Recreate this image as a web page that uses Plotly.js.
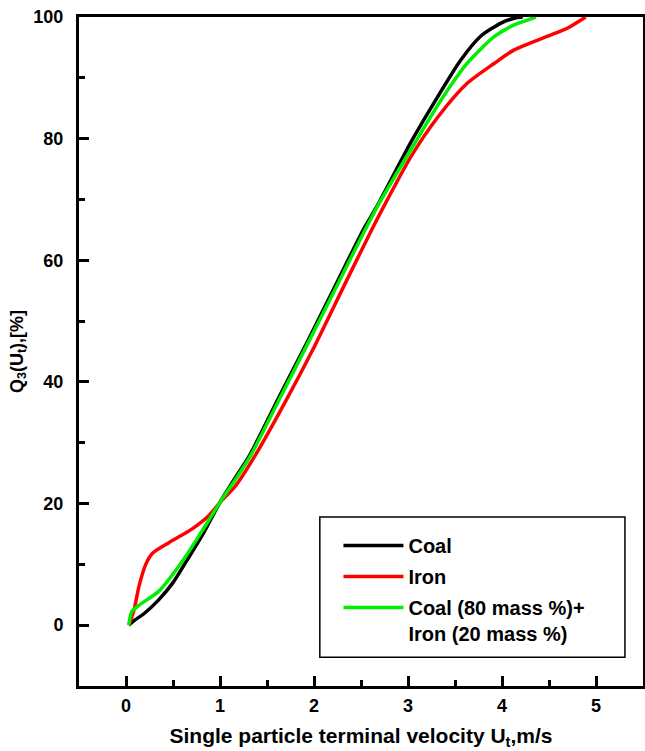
<!DOCTYPE html>
<html>
<head>
<meta charset="utf-8">
<script src="https://cdn.plot.ly/plotly-3.0.1.min.js"></script>
<style>html,body{margin:0;padding:0;background:#fff;}#chart{width:645px;height:751px;}</style>
</head>
<body>
<div id="chart"></div>
<script>
// Series names
const seriesNames = ["Coal", "Iron", "Coal (80 mass %)+<br>Iron (20 mass %)"];

// Coal
const coalX = [0.03, 0.10, 0.20, 0.35, 0.50, 0.63, 0.83, 1.00, 1.19, 1.31, 1.64, 1.92, 2.22, 2.52, 2.66, 3.03, 3.32, 3.56, 3.77, 3.99, 4.13, 4.22];
const coalY = [0, 0.9, 2.0, 4.2, 7.0, 10.2, 15.3, 20.2, 24.9, 27.8, 37.9, 46.3, 55.6, 64.9, 68.6, 79.4, 87.0, 92.9, 96.8, 99.0, 99.8, 100];

// Iron
const ironX = [0.03, 0.085, 0.14, 0.21, 0.28, 0.46, 0.70, 0.88, 1.00, 1.16, 1.37, 1.69, 2.01, 2.31, 2.61, 2.72, 3.03, 3.32, 3.63, 3.92, 4.13, 4.48, 4.70, 4.89];
const ironY = [0, 2.5, 6.5, 10.0, 11.8, 13.6, 15.8, 18.0, 20.2, 22.8, 27.8, 36.6, 46.0, 55.5, 64.9, 68.2, 77.0, 83.6, 89.1, 92.4, 94.6, 96.8, 98.2, 100];

// Coal (80 mass %) + Iron (20 mass %)
const mixX = [0.03, 0.06, 0.14, 0.35, 0.60, 0.81, 1.00, 1.20, 1.33, 1.66, 1.94, 2.24, 2.54, 2.68, 3.07, 3.35, 3.63, 3.92, 4.13, 4.27, 4.36];
const mixY = [0, 2.2, 3.3, 5.6, 10.5, 15.5, 20.2, 24.8, 28.0, 38.0, 46.5, 55.7, 64.9, 69.0, 79.2, 86.3, 92.4, 96.8, 98.7, 99.5, 100];

// Axis ticks
const xTicks = [0, 1, 2, 3, 4, 5];
const yTicks = [0, 20, 40, 60, 80, 100];

const colors = ["#000000", "#ff0000", "#00ee00"];
const font = "Liberation Sans, Arial, Helvetica, sans-serif";

const traces = [
  {x: coalX, y: coalY, name: seriesNames[0]},
  {x: ironX, y: ironY, name: seriesNames[1]},
  {x: mixX, y: mixY, name: seriesNames[2]}
].map((t, i) => Object.assign(t, {
  type: "scatter", mode: "lines",
  line: {color: colors[i], width: 3.5, shape: "spline", smoothing: 0.7},
  legendgroup: "g" + i
}));

const axisCommon = {
  showgrid: false, zeroline: false, showline: true, linecolor: "#000", linewidth: 3,
  mirror: true, ticks: "inside", ticklen: 10, tickwidth: 3, tickcolor: "#000",
  tickfont: {family: font, size: 18, color: "#000", weight: "bold"},
  minor: {ticks: "inside", ticklen: 6, tickwidth: 3, tickcolor: "#000"}
};

const layout = {
  width: 645, height: 751,
  margin: {l: 79, r: 2, t: 17, b: 65},
  paper_bgcolor: "#fff", plot_bgcolor: "#fff",
  showlegend: true,
  xaxis: Object.assign({}, axisCommon, {
    range: [-0.5, 5.5], tickvals: xTicks, ticktext: xTicks.map(String),
    minor: Object.assign({}, axisCommon.minor, {dtick: 0.5, tick0: 0}),
    ticklabelstandoff: 1,
    title: {text: "Single particle terminal velocity U<sub>t</sub>,m/s", font: {family: font, size: 21, color: "#000", weight: "bold"}, standoff: 14}
  }),
  yaxis: Object.assign({}, axisCommon, {
    range: [-10, 100], tickvals: yTicks, ticktext: yTicks.map(String),
    minor: Object.assign({}, axisCommon.minor, {dtick: 10, tick0: 0}),
    ticklabelstandoff: 9,
    title: {text: "Q<sub>3</sub>(U<sub>t</sub>),[%]", font: {family: font, size: 18, color: "#000", weight: "bold"}, standoff: 6}
  }),
  legend: {
    x: 0.46, y: 0.239, xanchor: "left", yanchor: "top",
    bgcolor: "rgba(0,0,0,0)", borderwidth: 0,
    font: {family: font, size: 20, color: "#000", weight: "bold"},
    tracegroupgap: 2, valign: "top", itemwidth: 60
  },
  shapes: [{
    type: "rect", xref: "paper", yref: "paper",
    x0: 0.427, x1: 0.968, y0: 0.043, y1: 0.2526,
    line: {color: "#000", width: 1.5}
  }]
};

Plotly.newPlot("chart", traces, layout, {staticPlot: true});
</script>
</body>
</html>
